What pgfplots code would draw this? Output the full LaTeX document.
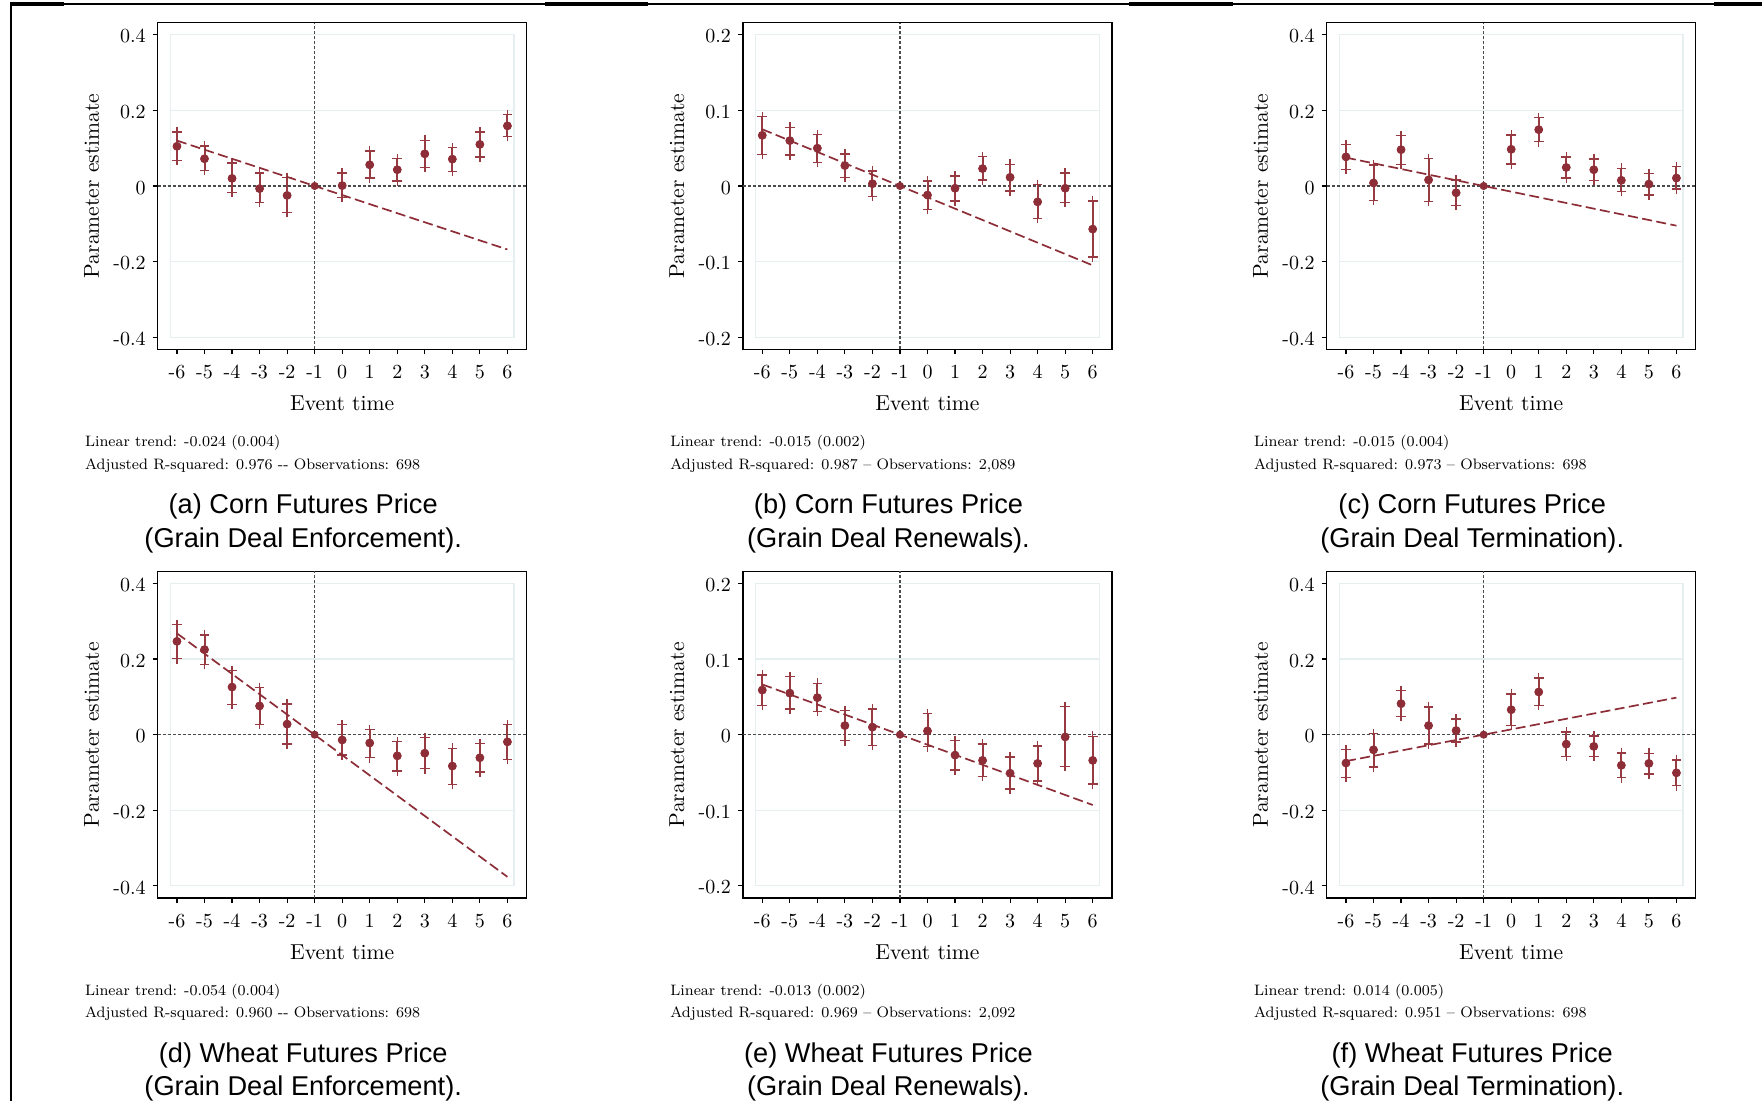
\documentclass[border=0pt]{standalone}
\usepackage{fontspec}
\usepackage{pgfplots}
\usepackage{pgfplotstable}
\pgfplotsset{compat=1.18}
\newfontfamily\capfont{Liberation Sans}
\definecolor{est}{RGB}{140,45,55}
\definecolor{ebar}{RGB}{152,58,65}
\definecolor{refgray}{RGB}{75,75,75}
\definecolor{gridc}{RGB}{230,239,240}

% x  estimate  err+  err-
\pgfplotstableread{
x y ep em
-6 0.105 0.038 0.037
-5 0.072 0.034 0.031
-4 0.020 0.041 0.037
-3 -0.007 0.041 0.037
-2 -0.025 0.047 0.045
0 0.001 0.033 0.032
1 0.056 0.037 0.035
2 0.043 0.030 0.030
3 0.085 0.036 0.036
4 0.071 0.031 0.033
5 0.110 0.033 0.033
6 0.159 0.030 0.028
}\tA
\pgfplotstableread{
x y ep em
-6 0.067 0.0248 0.0252
-5 0.060 0.0177 0.0190
-4 0.050 0.0180 0.0186
-3 0.027 0.0155 0.0160
-2 0.003 0.0168 0.0168
0 -0.012 0.0186 0.0190
1 -0.003 0.0164 0.0168
2 0.023 0.0159 0.0150
3 0.0115 0.0172 0.0181
4 -0.021 0.0230 0.0220
5 -0.003 0.0200 0.0190
6 -0.057 0.0370 0.0370
}\tB
\pgfplotstableread{
x y ep em
-6 0.077 0.033 0.033
-5 0.008 0.048 0.046
-4 0.096 0.038 0.039
-3 0.016 0.056 0.057
-2 -0.018 0.034 0.034
0 0.097 0.038 0.039
1 0.149 0.032 0.032
2 0.049 0.028 0.028
3 0.043 0.028 0.029
4 0.015 0.032 0.030
5 0.005 0.028 0.029
6 0.021 0.031 0.029
}\tC
\pgfplotstableread{
x y ep em
-6 0.247 0.044 0.046
-5 0.225 0.039 0.039
-4 0.126 0.044 0.046
-3 0.076 0.049 0.049
-2 0.028 0.053 0.053
0 -0.014 0.041 0.040
1 -0.022 0.036 0.039
2 -0.056 0.038 0.040
3 -0.049 0.041 0.041
4 -0.083 0.047 0.049
5 -0.061 0.038 0.038
6 -0.019 0.046 0.046
}\tD
\pgfplotstableread{
x y ep em
-6 0.059 0.0200 0.0200
-5 0.055 0.0216 0.0210
-4 0.049 0.0190 0.0185
-3 0.012 0.0200 0.0200
-2 0.010 0.0240 0.0240
0 0.005 0.0230 0.0210
1 -0.027 0.0195 0.0195
2 -0.034 0.0216 0.0210
3 -0.051 0.0216 0.0210
4 -0.038 0.0230 0.0230
5 -0.003 0.0400 0.0390
6 -0.034 0.0320 0.0310
}\tE
\pgfplotstableread{
x y ep em
-6 -0.075 0.036 0.038
-5 -0.040 0.043 0.046
-4 0.082 0.035 0.034
-3 0.024 0.049 0.049
-2 0.011 0.031 0.030
0 0.066 0.042 0.042
1 0.113 0.037 0.036
2 -0.025 0.032 0.033
3 -0.031 0.027 0.026
4 -0.081 0.033 0.033
5 -0.076 0.027 0.028
6 -0.101 0.034 0.034
}\tF

\pgfplotsset{
  es/.style={
    scale only axis, width=184.5pt, height=163.3pt,
    anchor=south west,
    xmin=-6.7, xmax=6.7,
    xtick={-6,-5,-4,-3,-2,-1,0,1,2,3,4,5,6},
    xticklabels={-6,-5,-4,-3,-2,-1,0,1,2,3,4,5,6},
    tick align=outside, tick pos=left, major tick length=2.5pt,
    axis line style={line width=0.75pt},
    tick style={black, line width=0.6pt},
    ticklabel style={font=\fontsize{10}{12}\selectfont},
    xticklabel style={yshift=-2pt},
    yticklabel style={yshift=-0.8pt},
    label style={font=\fontsize{10.8}{13}\selectfont},
    xlabel={Event time}, ylabel={Parameter estimate},
    xlabel style={at={(axis description cs:0.5,-0.165)}, anchor=center},
    ylabel style={at={(axis description cs:-0.179,0.5)}, anchor=center},
  },
  es4/.style={ymin=-0.432, ymax=0.432, ytick={-0.4,-0.2,0,0.2,0.4},
    yticklabels={-0.4,-0.2,0,0.2,0.4}},
  es2/.style={ymin=-0.216, ymax=0.216, ytick={-0.2,-0.1,0,0.1,0.2},
    yticklabels={-0.2,-0.1,0,0.1,0.2}},
}

% #1 table, #2 trend coordinates, #3 grid value, #4 inner bound, #5 axis bound
\newcommand\panel[5]{%
  \draw[gridc, line width=0.6pt] (axis cs:-6.24,-#4) rectangle (axis cs:6.24,#4);
  \draw[gridc, line width=0.6pt] (axis cs:-6.24,#3) -- (axis cs:6.24,#3);
  \draw[gridc, line width=0.6pt] (axis cs:-6.24,-#3) -- (axis cs:6.24,-#3);
  \addplot[refgray, line width=0.7pt, dash pattern=on 1.5pt off 1pt] coordinates {(-6.7,0) (6.7,0)};
  \addplot[refgray, line width=0.7pt, dash pattern=on 1.5pt off 1pt] coordinates {(-1,-#5) (-1,#5)};
  \addplot[ebar, only marks, mark=none,
    error bars/.cd, y dir=both, y explicit, error mark=+,
    error bar style={ebar, line width=1pt},
    error mark options={ebar, line width=0.7pt, mark size=2.4pt}]
    table[x=x, y=y, y error plus=ep, y error minus=em] {#1};
  \addplot[est, line width=0.85pt, dash pattern=on 5pt off 2.2pt] coordinates {#2};
  \addplot[est, only marks, mark=*, mark size=1.8pt] table[x=x, y=y] {#1};
  \addplot[est, only marks, mark=*, mark size=1.8pt] coordinates {(-1,0)};
}

\newcommand\stats[3]{%
  \node[anchor=west, align=left, inner sep=0pt,
    font=\fontsize{7.55}{11.25}\selectfont]
    at ([xshift=-36.5pt,yshift=-52.2pt]#1.south west) {#2\\#3};
}
\newcommand\capt[3]{%
  \node[align=center, inner sep=0pt, font=\capfont\fontsize{13.6}{16.8}\selectfont]
    at ([xshift=72.75pt,yshift=-87pt]#1.south west) {#2\\#3};
}

\begin{document}
\begin{tikzpicture}
\useasboundingbox (0,0) rectangle (881pt,550.5pt);
% frame
\draw[line width=1pt] (5.25pt,0) -- (5.25pt,548.5pt);
\draw[line width=0.6pt] (5.25pt,548.5pt) -- (881pt,548.5pt);
\draw[line width=1.6pt] (5pt,548.5pt) -- (32pt,548.5pt);
\draw[line width=1.6pt] (272.5pt,548.5pt) -- (324pt,548.5pt);
\draw[line width=1.6pt] (564.5pt,548.5pt) -- (616.5pt,548.5pt);
\draw[line width=1.6pt] (857pt,548.5pt) -- (881pt,548.5pt);

\begin{axis}[es, es4, name=A, at={(78.85pt,375.85pt)}]
\panel{\tA}{(-6,0.12) (6,-0.168)}{0.2}{0.4}{0.432}
\end{axis}
\begin{axis}[es, es2, name=B, at={(371.5pt,375.85pt)}]
\panel{\tB}{(-6,0.075) (6,-0.105)}{0.1}{0.2}{0.216}
\end{axis}
\begin{axis}[es, es4, name=C, at={(663.35pt,375.85pt)}]
\panel{\tC}{(-6,0.075) (6,-0.105)}{0.2}{0.4}{0.432}
\end{axis}
\begin{axis}[es, es4, name=D, at={(78.85pt,101.5pt)}]
\panel{\tD}{(-6,0.268) (6,-0.376)}{0.2}{0.4}{0.432}
\end{axis}
\begin{axis}[es, es2, name=E, at={(371.5pt,101.5pt)}]
\panel{\tE}{(-6,0.0665) (6,-0.093)}{0.1}{0.2}{0.216}
\end{axis}
\begin{axis}[es, es4, name=F, at={(663.35pt,101.5pt)}]
\panel{\tF}{(-6,-0.07) (6,0.098)}{0.2}{0.4}{0.432}
\end{axis}

\stats{A}{Linear trend: -0.024 (0.004)}{Adjusted R-squared: 0.976 -{}- Observations: 698}
\stats{B}{Linear trend: -0.015 (0.002)}{Adjusted R-squared: 0.987 -- Observations: 2,089}
\stats{C}{Linear trend: -0.015 (0.004)}{Adjusted R-squared: 0.973 -- Observations: 698}
\stats{D}{Linear trend: -0.054 (0.004)}{Adjusted R-squared: 0.960 -{}- Observations: 698}
\stats{E}{Linear trend: -0.013 (0.002)}{Adjusted R-squared: 0.969 -- Observations: 2,092}
\stats{F}{Linear trend: 0.014 (0.005)}{Adjusted R-squared: 0.951 -- Observations: 698}

\capt{A}{(a) Corn Futures Price}{(Grain Deal Enforcement).}
\capt{B}{(b) Corn Futures Price}{(Grain Deal Renewals).}
\capt{C}{(c) Corn Futures Price}{(Grain Deal Termination).}
\capt{D}{(d) Wheat Futures Price}{(Grain Deal Enforcement).}
\capt{E}{(e) Wheat Futures Price}{(Grain Deal Renewals).}
\capt{F}{(f) Wheat Futures Price}{(Grain Deal Termination).}
\end{tikzpicture}
\end{document}
